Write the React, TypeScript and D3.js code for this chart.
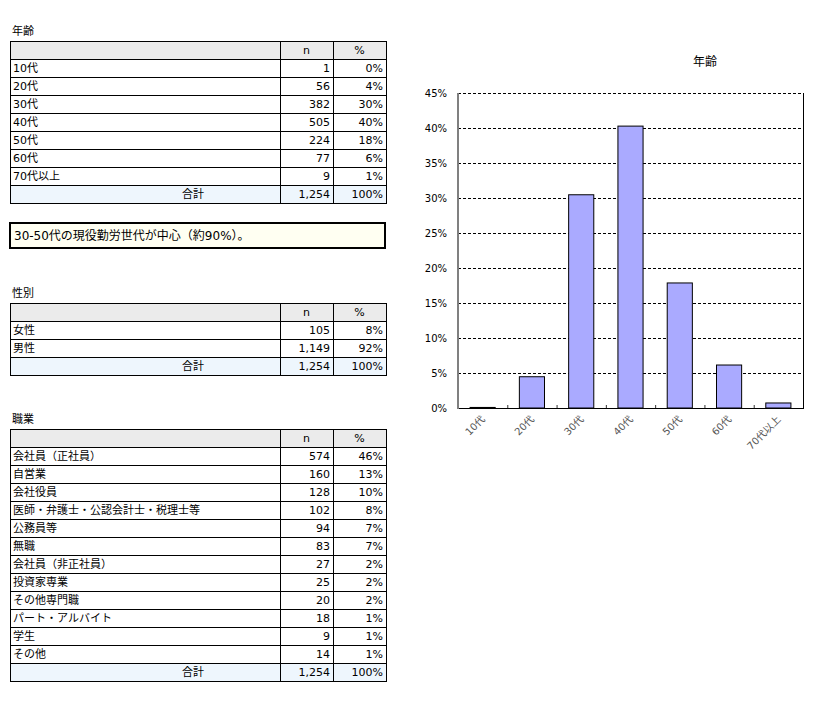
import React from "react";
import * as d3 from "d3";

const ageLabels = ["10代", "20代", "30代", "40代", "50代", "60代", "70代以上"];
const ageCounts = [1, 56, 382, 505, 224, 77, 9];
const genderLabels = ["女性", "男性"];
const genderCounts = [105, 1149];
const jobLabels = [
  "会社員（正社員）",
  "自営業",
  "会社役員",
  "医師・弁護士・公認会計士・税理士等",
  "公務員等",
  "無職",
  "会社員（非正社員）",
  "投資家専業",
  "その他専門職",
  "パート・アルバイト",
  "学生",
  "その他",
];
const jobCounts = [574, 160, 128, 102, 94, 83, 27, 25, 20, 18, 9, 14];
const yTicks = [0, 0.05, 0.1, 0.15, 0.2, 0.25, 0.3, 0.35, 0.4, 0.45];
const noteText = "30-50代の現役勤労世代が中心（約90%）。";

const FONT = "'DejaVu Sans', 'Noto Sans CJK JP', sans-serif";
const fmtN = d3.format(",");
const fmtP = d3.format(".0%");

function Table({ title, labels, counts, top }: { title: string; labels: string[]; counts: number[]; top: number }) {
  const total = d3.sum(counts);
  const rowH = 18;
  const x0 = 10, x1 = 280, x2 = 333, x3 = 386;
  const rows = labels.length + 2;
  const bottom = top + rows * rowH;
  return (
    <g fontFamily={FONT} fontSize={11} fill="#000">
      <text x={12} y={top - 6}>{title}</text>
      <rect x={x0} y={top} width={x3 - x0} height={rowH} fill="#ebebeb" />
      <rect x={x0} y={bottom - rowH} width={x3 - x0} height={rowH} fill="#eef6fd" />
      <text x={(x1 + x2) / 2} y={top + 13} textAnchor="middle">n</text>
      <text x={(x2 + x3) / 2} y={top + 13} textAnchor="middle">%</text>
      {labels.map((l, i) => {
        const y = top + (i + 1) * rowH;
        return (
          <g key={l}>
            <text x={13} y={y + 13}>{l}</text>
            <text x={x2 - 3} y={y + 13} textAnchor="end">{fmtN(counts[i])}</text>
            <text x={x3 - 3} y={y + 13} textAnchor="end">{fmtP(counts[i] / total)}</text>
          </g>
        );
      })}
      <text x={193} y={bottom - 5} textAnchor="middle">合計</text>
      <text x={x2 - 3} y={bottom - 5} textAnchor="end">{fmtN(total)}</text>
      <text x={x3 - 3} y={bottom - 5} textAnchor="end">{fmtP(1)}</text>
      {d3.range(1, rows).map((i) => (
        <line key={i} x1={x0} x2={x3} y1={top + i * rowH + 0.5} y2={top + i * rowH + 0.5} stroke="#000" />
      ))}
      <line x1={x1 + 0.5} x2={x1 + 0.5} y1={top} y2={bottom} stroke="#000" />
      <line x1={x2 + 0.5} x2={x2 + 0.5} y1={top} y2={bottom} stroke="#000" />
      <rect x={x0 + 0.5} y={top + 0.5} width={x3 - x0} height={bottom - top} fill="none" stroke="#000" />
    </g>
  );
}

function Chart() {
  const left = 458, right = 803, top = 93, bottom = 408;
  const total = d3.sum(ageCounts);
  const x = d3.scaleBand<string>().domain(ageLabels).range([left, right]).paddingInner(0).paddingOuter(0);
  const y = d3.scaleLinear().domain([0, 0.45]).range([bottom, top]);
  const bw = x.bandwidth() * 0.51;
  return (
    <g fontFamily={FONT}>
      <text x={705} y={66} textAnchor="middle" fontSize={12}>年齢</text>
      {yTicks.map((t) => (
        <g key={t}>
          {t > 0 && (
            <line x1={left} x2={right} y1={Math.round(y(t)) + 0.5} y2={Math.round(y(t)) + 0.5} stroke="#000" strokeDasharray="3,2" />
          )}
          <text x={447} y={y(t) + 4} textAnchor="end" fontSize={10}>{fmtP(t)}</text>
        </g>
      ))}
      {ageLabels.map((l, i) => {
        const cx = (x(l) as number) + x.bandwidth() / 2;
        const v = ageCounts[i] / total;
        return (
          <g key={l}>
            <rect x={cx - bw / 2} y={y(v)} width={bw} height={bottom - y(v)} fill="#aaaaff" stroke="#000" strokeWidth={1} />
            <text
              transform={`translate(${cx + 3},${bottom + 12}) rotate(-45)`}
              textAnchor="end"
              fontSize={10}
              fill="#555"
            >
              {l}
            </text>
          </g>
        );
      })}
      {ageLabels.slice(1).map((l) => (
        <line key={l} x1={(x(l) as number) + 0.5} x2={(x(l) as number) + 0.5} y1={bottom - 3} y2={bottom} stroke="#333" />
      ))}
      <line x1={right + 0.5} x2={right + 0.5} y1={top} y2={bottom} stroke="#000" />
      <line x1={left} x2={right + 1} y1={bottom + 0.5} y2={bottom + 0.5} stroke="#000" />
      <line x1={left} x2={left} y1={top} y2={bottom + 1} stroke="#808080" strokeWidth={2} />
    </g>
  );
}

export default function App() {
  return (
    <div style={{ position: "absolute", left: 0, top: 0 }}>
      <svg width={818} height={703} style={{ display: "block", background: "#fff" }}>
        <Table title="年齢" labels={ageLabels} counts={ageCounts} top={41} />
        <rect x={10} y={223} width={375} height={25} fill="#fffff2" stroke="#000" strokeWidth={2} />
        <text x={14} y={240} fontFamily={FONT} fontSize={12}>{noteText}</text>
        <Table title="性別" labels={genderLabels} counts={genderCounts} top={303} />
        <Table title="職業" labels={jobLabels} counts={jobCounts} top={429} />
        <Chart />
      </svg>
    </div>
  );
}
